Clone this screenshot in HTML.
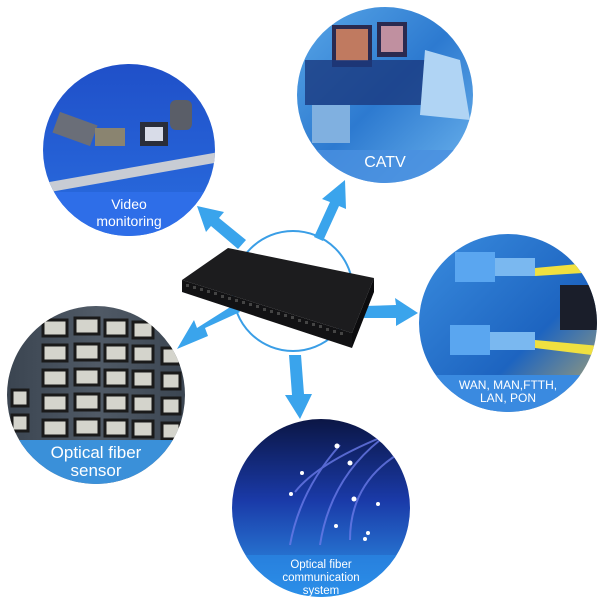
<!DOCTYPE html>
<html><head><meta charset="utf-8"><style>
html,body{margin:0;padding:0;background:#fff;width:600px;height:600px;overflow:hidden}
svg{display:block}
text{font-family:"Liberation Sans",sans-serif;fill:#fff;text-anchor:middle}
</style></head><body>
<svg width="600" height="600" viewBox="0 0 600 600" xmlns="http://www.w3.org/2000/svg">
<defs>
<clipPath id="c1"><circle cx="129" cy="150" r="86"/></clipPath>
<clipPath id="c2"><circle cx="385" cy="95" r="88"/></clipPath>
<clipPath id="c3"><circle cx="508" cy="323" r="89"/></clipPath>
<clipPath id="c4"><circle cx="96" cy="395" r="89"/></clipPath>
<clipPath id="c5"><circle cx="321" cy="508" r="89"/></clipPath>
<linearGradient id="g1" x1="0" y1="0" x2="0" y2="1"><stop offset="0" stop-color="#1f4fc8"/><stop offset="1" stop-color="#2a6ee0"/></linearGradient>
<linearGradient id="g2" x1="0" y1="0" x2="1" y2="1"><stop offset="0" stop-color="#5aa8e8"/><stop offset="0.5" stop-color="#2d7ad0"/><stop offset="1" stop-color="#6fb6ee"/></linearGradient>
<linearGradient id="g3" x1="0" y1="0" x2="1" y2="1"><stop offset="0" stop-color="#3b8ee0"/><stop offset="0.6" stop-color="#1d64c0"/><stop offset="1" stop-color="#c8b060"/></linearGradient>
<linearGradient id="g4" x1="0" y1="0" x2="1" y2="0"><stop offset="0" stop-color="#3a4450"/><stop offset="0.5" stop-color="#505a66"/><stop offset="1" stop-color="#3a4450"/></linearGradient>
<linearGradient id="g5" x1="0" y1="0" x2="0" y2="1"><stop offset="0" stop-color="#0a1440"/><stop offset="0.45" stop-color="#1a3aa8"/><stop offset="1" stop-color="#30a0f0"/></linearGradient>
</defs>

<!-- Video monitoring -->
<g clip-path="url(#c1)">
<rect x="40" y="60" width="180" height="180" fill="url(#g1)"/>
<rect x="40" y="168" width="180" height="10" fill="#c8ccd4" transform="rotate(-10 129 173)"/>
<rect x="55" y="118" width="40" height="22" fill="#6a6e78" transform="rotate(20 75 129)"/>
<rect x="95" y="128" width="30" height="18" fill="#8a8470"/>
<rect x="140" y="122" width="28" height="24" fill="#2a2e3a"/><rect x="145" y="127" width="18" height="14" fill="#d8dce8"/>
<rect x="170" y="100" width="22" height="30" fill="#5a5e68" rx="6"/>
<rect x="40" y="192" width="180" height="50" fill="#2e6ee8"/>
</g>
<text x="129" y="209" font-size="14">Video</text>
<text x="129" y="226" font-size="14">monitoring</text>

<!-- CATV -->
<g clip-path="url(#c2)">
<rect x="295" y="5" width="180" height="180" fill="url(#g2)"/>
<rect x="332" y="25" width="40" height="42" fill="#2a2a50"/><rect x="336" y="29" width="32" height="32" fill="#c07a60"/>
<rect x="377" y="22" width="30" height="35" fill="#2a2a50"/><rect x="381" y="26" width="22" height="26" fill="#c090a0"/>
<rect x="305" y="60" width="120" height="45" fill="#1a3a80" opacity="0.8"/>
<rect x="312" y="105" width="38" height="38" fill="#80b0e0"/>
<path d="M425 50 L460 60 L470 120 L420 115 Z" fill="#b0d4f4"/>
<rect x="295" y="150" width="180" height="40" fill="#4a90e0" opacity="0.8"/>
</g>
<text x="385" y="167" font-size="16">CATV</text>

<!-- WAN -->
<g clip-path="url(#c3)">
<rect x="415" y="230" width="190" height="190" fill="url(#g3)"/>
<rect x="455" y="252" width="40" height="30" fill="#5aa6f0"/><rect x="495" y="258" width="40" height="18" fill="#7ab8f0"/>
<path d="M535 268 L600 262 L600 272 L535 276 Z" fill="#f0e040"/>
<rect x="450" y="325" width="40" height="30" fill="#5aa6f0"/><rect x="490" y="332" width="45" height="18" fill="#7ab8f0"/>
<path d="M535 340 L600 346 L600 356 L535 348 Z" fill="#f0e040"/>
<rect x="560" y="285" width="40" height="45" fill="#1a1e2a"/>
<rect x="415" y="375" width="190" height="45" fill="#3a8ae0"/>
</g>
<text x="508" y="389" font-size="12">WAN, MAN,FTTH,</text>
<text x="508" y="402" font-size="12">LAN, PON</text>

<!-- Optical fiber sensor -->
<g clip-path="url(#c4)">
<rect x="5" y="305" width="185" height="185" fill="url(#g4)"/>
<g fill="#d4d4cc" stroke="#1a1a1a" stroke-width="3">
<rect x="43" y="320" width="24" height="16"/><rect x="75" y="318" width="24" height="16"/><rect x="105" y="320" width="22" height="16"/><rect x="133" y="322" width="20" height="16"/>
<rect x="43" y="345" width="24" height="16"/><rect x="75" y="344" width="24" height="16"/><rect x="105" y="345" width="22" height="16"/><rect x="133" y="346" width="20" height="16"/><rect x="162" y="348" width="18" height="16"/>
<rect x="43" y="370" width="24" height="16"/><rect x="75" y="369" width="24" height="16"/><rect x="105" y="370" width="22" height="16"/><rect x="133" y="371" width="20" height="16"/><rect x="162" y="373" width="18" height="16"/>
<rect x="43" y="395" width="24" height="16"/><rect x="75" y="394" width="24" height="16"/><rect x="105" y="395" width="22" height="16"/><rect x="133" y="396" width="20" height="16"/><rect x="162" y="398" width="18" height="16"/>
<rect x="43" y="420" width="24" height="16"/><rect x="75" y="419" width="24" height="16"/><rect x="105" y="420" width="22" height="16"/><rect x="133" y="421" width="20" height="16"/><rect x="162" y="423" width="18" height="16"/>
<rect x="12" y="390" width="16" height="16"/><rect x="12" y="415" width="16" height="16"/>
</g>
<rect x="5" y="440" width="185" height="50" fill="#3a96e4" opacity="0.92"/>
</g>
<text x="96" y="458" font-size="17">Optical fiber</text>
<text x="96" y="476" font-size="17">sensor</text>

<!-- Optical fiber communication -->
<g clip-path="url(#c5)">
<rect x="230" y="415" width="185" height="190" fill="url(#g5)"/>
<g stroke="#6a7ae8" stroke-width="2" fill="none" opacity="0.8">
<path d="M290 545 Q300 490 340 445"/><path d="M320 545 Q330 480 380 440"/><path d="M350 540 Q350 480 405 450"/><path d="M295 492 Q320 460 400 430"/>
</g>
<g fill="#fff"><circle cx="337" cy="446" r="2.5"/><circle cx="350" cy="463" r="2.5"/><circle cx="302" cy="473" r="2"/><circle cx="291" cy="494" r="2"/><circle cx="354" cy="499" r="2.5"/><circle cx="378" cy="504" r="2"/><circle cx="336" cy="526" r="2"/><circle cx="368" cy="533" r="2"/><circle cx="365" cy="539" r="2"/></g>
<rect x="230" y="555" width="185" height="50" fill="#2a8ae8" opacity="0.6"/>
</g>
<text x="321" y="568" font-size="11.5">Optical fiber</text>
<text x="321" y="581" font-size="11.5">communication</text>
<text x="321" y="594" font-size="11.5">system</text>

<!-- central circle -->
<circle cx="293" cy="291" r="60" fill="#fff" stroke="#3a9ee6" stroke-width="2"/>

<!-- arrows -->
<g fill="#3aa4ec">
<polygon points="246,240 219,218 224,212 197,206 206,232 211,226 238,249"/>
<polygon points="314,237 330,202 322,199 345,180 346,209 339,206 323,241"/>
<polygon points="364,306 396,305 395,298 418,313 396,326 396,318 364,318"/>
<polygon points="240,312 205,328 208,336 177,349 194,320 197,328 235,304"/>
<polygon points="289,355 292,395 285,395 300,419 312,394 304,394 301,355"/>
</g>

<!-- device -->
<polygon points="228,248 374,278 352,333 182,280" fill="#1c1c1e"/>
<polygon points="182,280 352,333 352,348 182,292" fill="#121214"/>
<polygon points="352,333 374,278 374,292 352,348" fill="#0c0c0e"/>
<g fill="#444">
<rect x="186" y="284" width="3" height="3"/><rect x="193" y="286" width="3" height="3"/><rect x="200" y="288" width="3" height="3"/><rect x="207" y="290" width="3" height="3"/><rect x="214" y="292" width="3" height="3"/><rect x="221" y="295" width="3" height="3"/><rect x="228" y="297" width="3" height="3"/><rect x="235" y="299" width="3" height="3"/><rect x="242" y="301" width="3" height="3"/><rect x="249" y="303" width="3" height="3"/><rect x="256" y="305" width="3" height="3"/><rect x="263" y="308" width="3" height="3"/><rect x="270" y="310" width="3" height="3"/><rect x="277" y="312" width="3" height="3"/><rect x="284" y="314" width="3" height="3"/><rect x="291" y="316" width="3" height="3"/><rect x="298" y="319" width="3" height="3"/><rect x="305" y="321" width="3" height="3"/><rect x="312" y="323" width="3" height="3"/><rect x="319" y="325" width="3" height="3"/><rect x="326" y="328" width="3" height="3"/><rect x="333" y="330" width="3" height="3"/><rect x="340" y="332" width="3" height="3"/>
</g>
</svg>
</body></html>
